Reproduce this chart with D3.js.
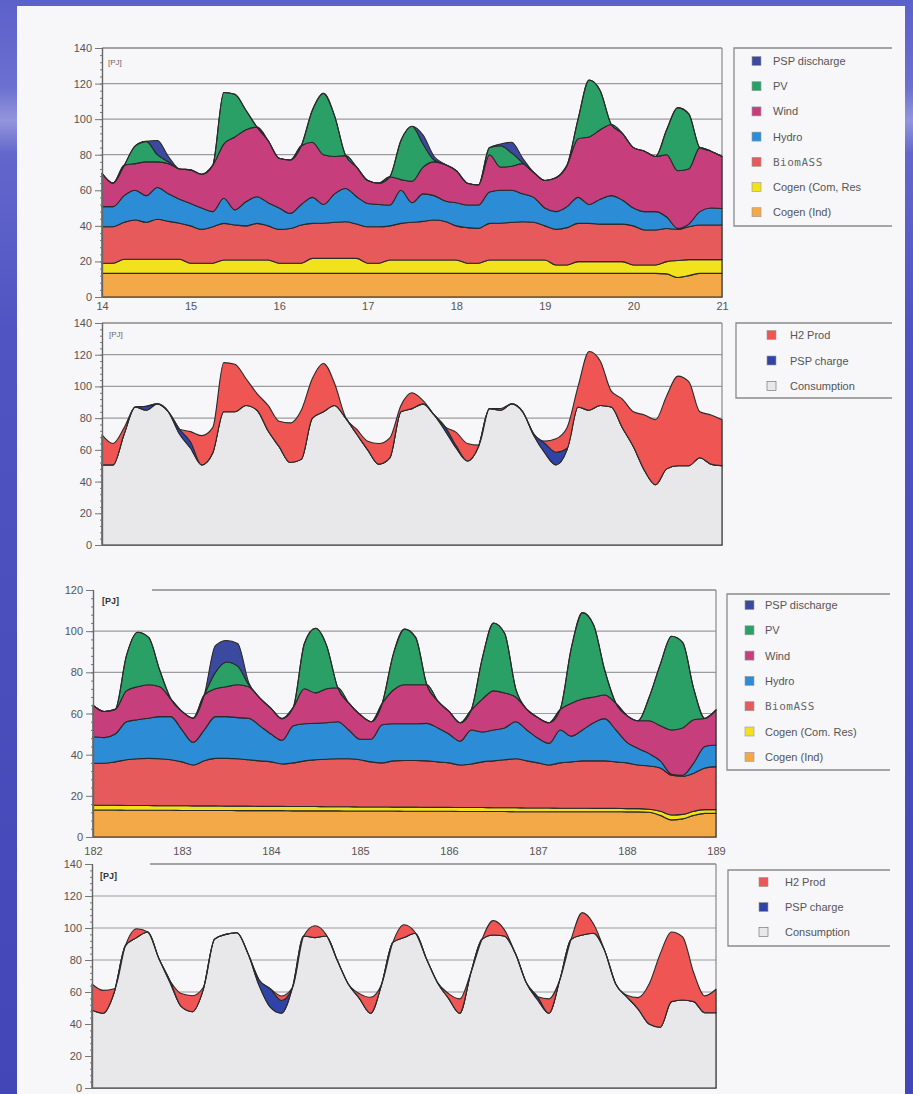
<!DOCTYPE html>
<html><head><meta charset="utf-8">
<script src="https://cdn.jsdelivr.net/npm/d3@7"></script>
<style>
body{margin:0;background:#4a4ec0}
svg{display:block}
text{font-family:"Liberation Sans",Arial,sans-serif}
</style>
</head><body>
<svg id="c" width="913" height="1094"></svg>
<script>
// ---------- DATA ----------
// time grid: 3-hour steps
const days1 = d3.range(0, 57).map(i => 14 + i / 8);
const days3 = d3.range(0, 57).map(i => 182 + i / 8);
const xTicks1 = [14, 15, 16, 17, 18, 19, 20, 21];
const xTicks3 = [182, 183, 184, 185, 186, 187, 188, 189];
const yTicks140 = [0, 20, 40, 60, 80, 100, 120, 140];
const yTicks120 = [0, 20, 40, 60, 80, 100, 120];

// Panel 1 (days 14-21) supply [PJ]
const p1CogenInd = [13.3,13.3,13.3,13.3,13.3,13.3,13.3,13.3,13.3,13.3, 13.3,13.3,13.3,13.3,13.3,13.3,13.3,13.3,13.3,13.3, 13.3,13.3,13.3,13.3,13.3,13.3,13.3,13.3,13.3,13.3, 13.3,13.3,13.3,13.3,13.3,13.3,13.3,13.3,13.3,13.3, 13.3,13.3,13.3,13.3,13.3,13.3,13.3,13.3,13.3,13.3, 13.3,13,11,12,13.3,13.3,13.3];
const p1CogenCom = [5.7,5.7,7.9,7.9,7.9,7.9,7.9,7.9,5.7,5.7, 5.7,7.5,7.5,7.5,7.5,7.5,5.7,5.7,5.7,8.4, 8.4,8.4,8.4,8.4,5.7,5.7,7.5,7.5,7.5,7.5, 7.5,7.5,7.5,5.7,5.7,7.5,7.5,7.5,7.5,7.5, 7.5,4.7,4.7,6.6,6.6,6.6,6.6,6.6,4.7,4.7, 4.7,6.9,9.5,9,7.7,7.7,7.7];
const p1Biomass = [20.5,20.5,20.8,22.1,20.8,22.5,21.3,20.3,21,19, 20.5,20.6,19.7,19.2,20.6,19.2,19,19.5,21.5,19.7, 19.8,20.3,20.6,19.3,20.5,20.5,19.2,20.6,21.2,21.7, 22.5,21.7,19.2,20,19.6,20.6,20.7,21.2,21.5,21.2, 19.2,20,21,21.5,21.5,21.1,21.1,21.1,22,19.7, 19.7,18.6,17.5,18.5,19.5,19.5,19.5];
const p1Hydro = [11.3,11.3,15,16.7,15,17.9,15.5,13.5,12.6,12, 8.5,14.1,8.5,13.5,15,13,12,8.5,11.5,14.6, 10.5,16,18.7,15.4,13.1,12.5,11.7,18.6,11,15.5, 13.7,11.5,13,12.7,13.1,17.6,18.5,18,15.7,14, 10,10,11.8,14.6,10.6,14,16,13.5,10,10.3, 10.3,6.5,0.6,1.5,7.5,9.5,9.3];
const p1Wind = [18.7,13.2,17,15,19,14.4,17,17,18.9,19, 26,30.5,41,40.5,39.1,35,28,30,33,31, 28,21,18.5,16.6,12.9,12,15.9,6,12,15, 19,20.5,18,12.3,11.3,21,13,13.5,17,14, 15.5,19,23.2,33,38,39,40,37.5,34,34, 31,35,32.4,31,36,32,29.2];
const p1PV = [0,0,0,10,11.5,4,1,0,0,0, 0,29,24,11,0,0,0,0,0,18, 34.5,23,0,0,0,0,0,22,31,13, 1,0,0,0,0,4,12,7.5,0.5,0, 0,0,0,11,32,22,0,0,0,0, 0,14,35.5,31,0,0,0];
const p1PspDis = [0,0,0,0,0,8,3,0,0,0, 0,0,0,0,0,0,0,0,0,0, 0,0,0,0,0,0,0,0,0,5, 2,0,0,0,0,0,1,6,2.5,0, 0,0,0,0,0,0,0,0,0,0, 0,0,0,0,0,0,0];

// Panel 2 (days 14-21) use [PJ]
const p2Consumption = [50.5,50.5,70,87,85,89,84,70,61,50.5, 58,84,84,88,85,72,62,52,54,80, 84,88,80,70,60,51,55,84,86,89, 82,72,61,53,62,86,85,89,84,69, 58,50.5,60,87,85,88,87,74,62,47, 38,48,50,50,55,51,50];
const p2PspCharge = [0,0,0,0,2.5,0,0,3,4,0, 0,0,0,0,0,0,0,0,0,0, 0,0,0,0,0,0,0,0,0,0, 0,2.5,1.5,0,0,0,0,0,0,1, 6,8,1,0,0,0,0,0,0,0, 0,0,0,0,0,0,0];
const p2H2Prod = [19,13.5,4,0,0,0,0,0,6.5,18.5, 16,31,30,17,10.5,16,16,25,31,25, 30.5,14,0.5,3,5.5,13,12.6,4,10,2, 0,0,8.5,11,1,0,1,0,0,0, 1.5,8.5,13,13,37,28,10,18,22,35, 41,46,56.5,53,29,31,29];

// Panel 3 (days 182-189) supply [PJ]
const p3CogenInd = [13.1,13.1,13.1,13.0,13.0,13.0,13.0,13.0,12.9,12.9, 12.9,12.9,12.9,12.8,12.8,12.8,12.8,12.8,12.7,12.7, 12.7,12.7,12.7,12.6,12.6,12.6,12.6,12.6,12.5,12.5, 12.5,12.5,12.5,12.4,12.4,12.4,12.4,12.4,12.3,12.3, 12.3,12.3,12.3,12.3,12.3,12.3,12.3,12.3,12.2,12.2, 12,10.5,8.3,8.8,10.5,11.5,11.5];
const p3CogenCom = [2.4,2.3,2.3,2.3,2.3,2.3,2.2,2.2,2.3,2.2, 2.2,2.2,2.1,2.2,2.2,2.1,2.1,2.1,2.1,2.1, 2.1,2.0,2.0,2.1,2.0,2.0,2.0,1.9,2.0,2.0, 1.9,1.9,1.9,1.9,1.9,1.9,1.8,1.8,1.9,1.8, 1.8,1.8,1.7,1.7,1.7,1.6,1.6,1.6,1.6,1.6, 1.5,2.0,2.4,2.2,2.0,1.8,1.8];
const p3Biomass = [20.3,20.4,21.1,22.2,22.7,22.9,22.8,22.3,21.3,19.9, 21.9,23.1,23.2,23,22.5,22.1,21.6,20.6,21.2,22.2, 22.7,23.1,23.3,23.3,22.9,21.9,21.4,22.5,22.7,22.7, 22.6,22.1,21.6,20.7,21.2,22.2,22.8,23.3,23.8,22.9, 21.9,20.9,22,22.5,23,23.1,23.1,22.6,22.2,21.2, 21,21,19.3,18.5,18.5,20.2,20.9];
const p3Hydro = [12.9,12.5,13.5,18.5,19,19.5,20.5,21,15.5,11, 15,20.3,20.3,20,20.2,17,13.5,11.5,18,18, 17.7,17.7,18,14,10,11,18.5,18,17.8,17.8, 18.2,16.5,14,11.5,16.5,14.5,15,15.5,18,15, 12,10.5,16,12.5,15,18.5,20.5,15.5,10,8, 6,3.5,0.5,0.5,5,10.5,10.5];
const p3Wind = [15.3,12.7,12,15,16,16.3,14.5,8.5,9,11.7, 17,13.5,14.5,16,15.3,13.5,12.5,10.5,9,17, 14.8,16.5,16.5,13,12,8.5,10.5,16.4,19,19, 18.8,13,11,9,9.7,16,19,17,12,10, 10,10,10,16,15,12.5,11.5,13,13,13.5, 16,17,21.5,23,21,13.6,17];
const p3PV = [0,0,0,17,26.5,23,8,0,0,0, 0,8,12,9,1,0,0,0,0,22, 31.4,21,0,0,0,0,0,17.6,27,23, 0,0,0,0,0,20,33,29,4,0, 0,0,0,27,42,35,12,0,0,0, 11.5,30,45.5,41.5,15,0,0];
const p3PspDis = [0,0,0,0,0,0,0,0,0,0, 0,13,10.5,11,1,0,0,0,0,0, 0,0,0,0,0,0,0,0,0,0, 0,0,0,0,0,0,0,0,0,0, 0,0,0,0,0,0,0,0,0,0, 0,0,0,0,0,0,0];

// Panel 4 (days 182-189) use [PJ]
const p4Consumption = [48.7,46.7,60,89,94,97.5,81,66,51,47.7, 62,93,96,97,84,64,50.5,46.7,63,95, 94,95,80,65,56,46.7,65,91,94,96.7, 81,66,56,46.7,72,93,95.6,95,84,65.4, 55,46.7,68,93,95.6,96.7,86,65,57,49.5, 40,38,54,55,54,47,47];
const p4PspCharge = [0,0,0,0,0,0,0,1,0,0, 0,0,0,0,0,3.5,11.5,8,0,0, 0,0,0,0,0,0,0,0,0,0, 0,0,0,0,0,0,0,0,0,0, 2,0,0,0,0,0,0,0,0,0, 0,0,0,0,0,0,0];
const p4H2Prod = [16.3,14.3,2,0,5.5,0,0,0,8,10, 1,0,0,0,0,0,0,2.8,0,0, 7.4,1,0,0,3,10,0,0,8,0.5, 0,0,3,9,0,0,9,4,0,0, 0,9,0,0,14,6,0,0,1,7, 25,46,43.5,39.5,18,10.6,14.7];

// legend labels
const supplyLabels1 = ["PSP discharge", "PV", "Wind", "Hydro", "BiomASS", "Cogen (Com, Res", "Cogen (Ind)"];
const supplyLabels3 = ["PSP discharge", "PV", "Wind", "Hydro", "BiomASS", "Cogen (Com. Res)", "Cogen (Ind)"];
const useLabels = ["H2 Prod", "PSP charge", "Consumption"];

// ---------- STYLE ----------
const COL = {
  pspDis: "#3b4a9e", pv: "#2aa066", wind: "#c63f7c", hydro: "#2c8dd6",
  biomass: "#e65a5c", cogenCom: "#f2e21e", cogenInd: "#f4a948",
  h2: "#ee5553", pspCh: "#2f44a6", cons: "#e8e8eb"
};

const svg = d3.select("#c");
const defs = svg.append("defs");
const lg = defs.append("linearGradient").attr("id", "bg").attr("x1", 0).attr("y1", 0).attr("x2", 0).attr("y2", 1);
[[0, "#5c60ca"], [0.08, "#6c70d0"], [0.11, "#9396dc"], [0.14, "#6367cc"], [0.3, "#5054c2"], [0.6, "#4a4ebd"], [1, "#4246b6"]]
  .forEach(s => lg.append("stop").attr("offset", s[0]).attr("stop-color", s[1]));
svg.append("rect").attr("width", 913).attr("height", 1094).attr("fill", "url(#bg)");
svg.append("rect").attr("x", 17).attr("y", 6).attr("width", 888).attr("height", 1088).attr("fill", "#f7f6f8");

function drawPanel(p) {
  const x = d3.scaleLinear().domain(d3.extent(p.days)).range([p.left, p.right]);
  const y = d3.scaleLinear().domain([0, p.yMax]).range([p.yZero, p.yTop]);
  const g = svg.append("g");

  g.selectAll("line.grid").data(p.yTicks.filter(v => v > 0 && v < p.yMax)).join("line")
    .attr("x1", p.left).attr("x2", p.right)
    .attr("y1", d => y(d)).attr("y2", d => y(d))
    .attr("stroke", "#9c9c9c").attr("stroke-width", 1.2);
  g.append("line").attr("x1", p.frameStart).attr("x2", p.right)
    .attr("y1", y(p.yMax)).attr("y2", y(p.yMax)).attr("stroke", "#8a8a8a").attr("stroke-width", 1.4);
  g.append("line").attr("x1", p.right).attr("x2", p.right)
    .attr("y1", y(p.yMax)).attr("y2", y(0)).attr("stroke", "#8a8a8a").attr("stroke-width", 1.2);

  const table = p.days.map((d, i) => {
    const r = { day: d };
    p.series.forEach(s => r[s.key] = s.values[i]);
    return r;
  });
  const layers = d3.stack().keys(p.series.map(s => s.key))(table);
  const area = d3.area().curve(d3.curveMonotoneX)
    .x(d => x(d.data.day)).y0(d => y(d[0])).y1(d => y(d[1]));
  g.selectAll("path.layer").data(layers).join("path")
    .attr("d", area)
    .attr("fill", (d, i) => p.series[i].color)
    .attr("stroke", "#2a2a2a").attr("stroke-width", 1.1).attr("stroke-linejoin", "round");

  const ya = g.append("g").attr("transform", `translate(${p.left},0)`)
    .call(d3.axisLeft(y).tickValues(p.yTicks).tickSize(7).tickPadding(3));
  const yMinor = g.append("g").attr("transform", `translate(${p.left},0)`)
    .call(d3.axisLeft(y).tickValues(d3.range(0, p.yMax + 0.1, 4)).tickSize(2).tickFormat(""));
  const xa = g.append("g").attr("transform", `translate(0,${p.yZero})`)
    .call(d3.axisBottom(x).tickValues(p.xTicks).tickSize(0).tickPadding(p.xPad)
      .tickFormat(p.showX ? d3.format("d") : ""));
  [ya, yMinor, xa].forEach(a => {
    a.select(".domain").attr("stroke", "#666").attr("stroke-width", 1.2);
    a.selectAll(".tick line").attr("stroke", "#777");
    a.selectAll("text").attr("fill", "#555").style("font-size", "11px");
  });
  if (!p.showX) xa.selectAll("text").remove();

  g.append("text").attr("x", p.pj[0]).attr("y", p.pj[1]).text("[PJ]")
    .attr("fill", p.pjBold ? "#333" : "#666").style("font-size", p.pjBold ? "9px" : "8px")
    .style("font-weight", p.pjBold ? "bold" : "normal");

  const L = p.legend;
  g.append("path")
    .attr("d", `M${L.right},${L.top}H${L.left}V${L.bottom}H${L.right}`)
    .attr("fill", "none").attr("stroke", "#8a8a8a").attr("stroke-width", 1.3);
  const items = p.series.slice().reverse();
  items.forEach((s, i) => {
    const cy = L.y0 + i * L.dy;
    g.append("rect").attr("x", L.sx).attr("y", cy - 4.5).attr("width", 9).attr("height", 9)
      .attr("fill", s.color).attr("stroke", s.key === "cons" ? "#666" : "#999").attr("stroke-width", 0.6);
    const t = g.append("text").attr("x", L.tx).attr("y", cy + 4).text(p.labels[i])
      .attr("fill", "#555").style("font-size", "11px");
    if (p.labels[i] === "BiomASS") t.style("font-family", "'DejaVu Sans Mono',monospace").style("font-size", "11px").attr("fill", "#666").attr("letter-spacing", "0.5");
  });
}

function supplySeries(ind, com, bio, hyd, wind, pv, psp) {
  return [
    { key: "cogenInd", values: ind, color: COL.cogenInd },
    { key: "cogenCom", values: com, color: COL.cogenCom },
    { key: "biomass", values: bio, color: COL.biomass },
    { key: "hydro", values: hyd, color: COL.hydro },
    { key: "wind", values: wind, color: COL.wind },
    { key: "pv", values: pv, color: COL.pv },
    { key: "pspDis", values: psp, color: COL.pspDis }
  ];
}
function useSeries(cons, psp, h2) {
  return [
    { key: "cons", values: cons, color: COL.cons },
    { key: "pspCh", values: psp, color: COL.pspCh },
    { key: "h2", values: h2, color: COL.h2 }
  ];
}

drawPanel({
  days: days1, series: supplySeries(p1CogenInd, p1CogenCom, p1Biomass, p1Hydro, p1Wind, p1PV, p1PspDis),
  labels: supplyLabels1, left: 102, right: 722, yZero: 297, yTop: 48, yMax: 140, yTicks: yTicks140,
  frameStart: 102, xTicks: xTicks1, showX: true, xPad: 5, pj: [108, 65], pjBold: false,
  legend: { left: 734, right: 892, top: 48, bottom: 226, sx: 752, tx: 773, y0: 61, dy: 25.2 }
});
drawPanel({
  days: days1, series: useSeries(p2Consumption, p2PspCharge, p2H2Prod),
  labels: useLabels, left: 102, right: 722, yZero: 545, yTop: 323, yMax: 140, yTicks: yTicks140,
  frameStart: 102, xTicks: xTicks1, showX: false, xPad: 4, pj: [109, 337], pjBold: false,
  legend: { left: 736, right: 892, top: 323, bottom: 398, sx: 767, tx: 790, y0: 335, dy: 25.5 }
});
drawPanel({
  days: days3, series: supplySeries(p3CogenInd, p3CogenCom, p3Biomass, p3Hydro, p3Wind, p3PV, p3PspDis),
  labels: supplyLabels3, left: 93, right: 716, yZero: 837, yTop: 590, yMax: 120, yTicks: yTicks120,
  frameStart: 152, xTicks: xTicks3, showX: true, xPad: 10, pj: [102, 604], pjBold: true,
  legend: { left: 727, right: 890, top: 594, bottom: 770, sx: 745, tx: 765, y0: 605, dy: 25.3 }
});
drawPanel({
  days: days3, series: useSeries(p4Consumption, p4PspCharge, p4H2Prod),
  labels: useLabels, left: 92, right: 716, yZero: 1088, yTop: 864, yMax: 140, yTicks: yTicks140,
  frameStart: 150, xTicks: xTicks3, showX: false, xPad: 4, pj: [100, 879], pjBold: true,
  legend: { left: 728, right: 890, top: 870, bottom: 946, sx: 759, tx: 785, y0: 882, dy: 25 }
});
</script>
</body></html>
